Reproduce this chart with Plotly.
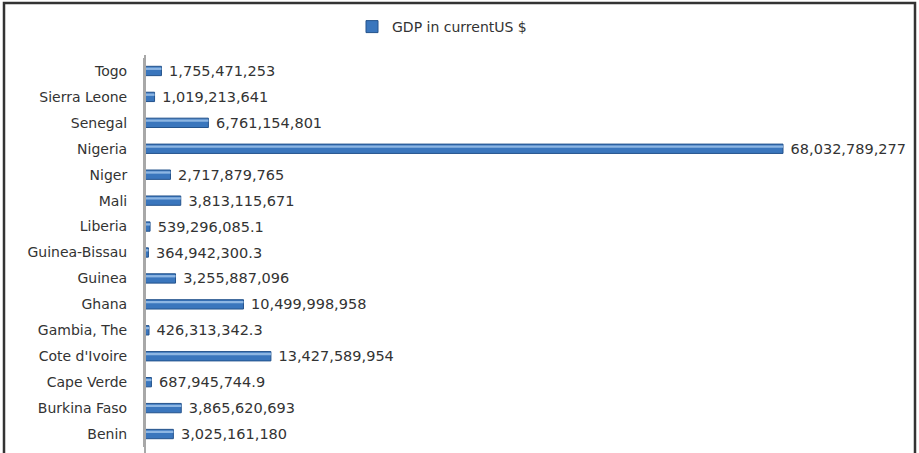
import plotly.graph_objects as go

countries = ["Benin", "Burkina Faso", "Cape Verde", "Cote d'Ivoire", "Gambia, The",
             "Ghana", "Guinea", "Guinea-Bissau", "Liberia", "Mali", "Niger",
             "Nigeria", "Senegal", "Sierra Leone", "Togo"]
gdp = [3025161180, 3865620693, 687945744.9, 13427589954, 426313342.3,
       10499998958, 3255887096, 364942300.3, 539296085.1, 3813115671, 2717879765,
       68032789277, 6761154801, 1019213641, 1755471253]
series_name = "GDP in currentUS $"

def fmt(v):
    return f"{v:,.0f}" if v >= 1e9 else f"{v:,.1f}"

labels = [" " + fmt(v) for v in gdp]

W, H = 919, 453
L, R, T, B = 145, 14, 58, 6
pw, ph = W - L - R, H - T - B

def px_x(x):
    return (x - L) / pw

def px_y(y):
    return (H - B - y) / ph

fig = go.Figure()
fig.add_trace(go.Bar(
    y=countries, x=gdp, orientation="h", name=series_name,
    marker=dict(color="#3a76bd", line=dict(color="#24538c", width=1)),
    text=labels, textposition="outside", cliponaxis=False, constraintext="none",
    textfont=dict(family="DejaVu Sans", size=14.5, color="#333333"),
    width=0.36, showlegend=True,
))
# light highlight along the top of each bar (glossy look)
fig.add_trace(go.Bar(
    y=countries, x=gdp, orientation="h", name=series_name,
    marker=dict(color="#8db6e3", line=dict(width=0)),
    width=0.09, offset=0.04, showlegend=False, hoverinfo="skip",
))

fig.update_layout(
    width=W, height=H,
    barmode="overlay",
    margin=dict(l=L, r=R, t=T, b=B, autoexpand=False),
    paper_bgcolor="white", plot_bgcolor="white",
    font=dict(family="DejaVu Sans", size=12, color="#333333"),
    showlegend=True,
    legend=dict(orientation="h", x=px_x(352), xanchor="left", xref="paper",
                y=px_y(27), yanchor="middle", yref="paper",
                font=dict(size=14, color="#333333"), bgcolor="rgba(0,0,0,0)",
                itemwidth=30),
    xaxis=dict(range=[0, 68032789277 * pw / 638], visible=False, showgrid=False),
    yaxis=dict(showline=True, linecolor="#a8a8a8", linewidth=2, showgrid=False,
               automargin=False,
               ticks="", ticklabelstandoff=13, tickfont=dict(size=14, color="#333333")),
    shapes=[
        dict(type="rect", xref="paper", yref="paper",
             x0=px_x(4), x1=px_x(915), y0=px_y(458), y1=px_y(3),
             line=dict(color="#333333", width=2.5), fillcolor="rgba(0,0,0,0)", layer="above"),
        dict(type="line", xref="paper", yref="paper",
             x0=0, x1=0, y0=px_y(458), y1=px_y(55),
             line=dict(color="#a8a8a8", width=2)),
    ],
)

fig.write_html("out.html", config={"displayModeBar": False},
               post_script="document.body.style.margin='0';document.body.style.overflow='hidden';")
